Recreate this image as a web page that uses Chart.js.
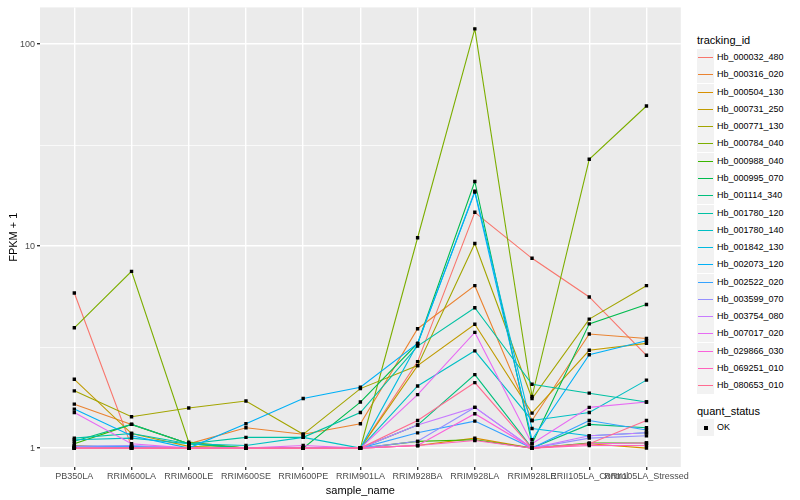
<!DOCTYPE html>
<html>
<head>
<meta charset="utf-8">
<script src="https://cdn.jsdelivr.net/npm/chart.js@4.4.1/dist/chart.umd.min.js"></script>
<style>
  html, body { margin: 0; padding: 0; background: #fff; }
  #wrap { position: relative; width: 800px; height: 500px; font-family: 'Liberation Sans', Arial, sans-serif; }
  #chart { position: absolute; left: 0; top: 0; }
  .lg-title { position: absolute; left: 697px; font-size: 11px; color: #000; white-space: nowrap; }
  .lg-key { position: absolute; left: 697px; width: 17px; height: 17px; background: #f2f2f2; }
  .lg-line { position: absolute; left: 1px; right: 1px; top: 8px; height: 1px; }
  .lg-dot { position: absolute; left: 6.5px; top: 6.5px; width: 4px; height: 4px; background: #000; }
  .lg-text { position: absolute; left: 717px; font-size: 9px; color: #000; white-space: nowrap; line-height: 17px; }
</style>
</head>
<body>
<div id="wrap">
  <canvas id="chart" width="690" height="500"></canvas>
</div>
<script>
const categories = ['PB350LA', 'RRIM600LA', 'RRIM600LE', 'RRIM600SE', 'RRIM600PE', 'RRIM901LA',
  'RRIM928BA', 'RRIM928LA', 'RRIM928LE', 'RRII105LA_Control', 'RRII105LA_Stressed'];

const trackingIds = ['Hb_000032_480', 'Hb_000316_020', 'Hb_000504_130', 'Hb_000731_250', 'Hb_000771_130',
  'Hb_000784_040', 'Hb_000988_040', 'Hb_000995_070', 'Hb_001114_340', 'Hb_001780_120',
  'Hb_001780_140', 'Hb_001842_130', 'Hb_002073_120', 'Hb_002522_020', 'Hb_003599_070',
  'Hb_003754_080', 'Hb_007017_020', 'Hb_029866_030', 'Hb_069251_010', 'Hb_080653_010'];

const lineColours = ['#F8766D', '#EA8331', '#D89000', '#C09B00', '#A3A500', '#7CAE00', '#39B600', '#00BB4E',
  '#00BF7D', '#00C1A3', '#00BFC4', '#00BAE0', '#00B0F6', '#35A2FF', '#9590FF', '#C77CFF',
  '#E76BF3', '#FA62DB', '#FF62BC', '#FF6C91'];

// FPKM + 1 per sample
const hb_000032_480 = [5.86, 1.02, 1.00, 1.00, 1.00, 1.00, 2.68, 14.7, 8.70, 5.60, 2.88];
const hb_000316_020 = [1.65, 1.31, 1.05, 1.26, 1.17, 1.32, 3.90, 6.37, 1.37, 3.67, 3.49];
const hb_000504_130 = [1.03, 1.00, 1.00, 1.00, 1.00, 1.00, 1.03, 1.12, 1.00, 1.05, 1.00];
const hb_000731_250 = [2.19, 1.18, 1.02, 1.00, 1.00, 1.00, 2.56, 4.10, 1.49, 3.05, 3.30];
const hb_000771_130 = [1.92, 1.43, 1.58, 1.71, 1.17, 1.97, 2.56, 10.3, 1.76, 4.35, 6.37];
const hb_000784_040 = [3.94, 7.50, 1.07, 1.00, 1.00, 1.00, 11.0, 119, 1.80, 26.9, 49.4];
const hb_000988_040 = [1.05, 1.31, 1.05, 1.00, 1.00, 1.00, 1.08, 1.10, 1.00, 1.06, 1.06];
const hb_000995_070 = [1.00, 1.00, 1.00, 1.00, 1.00, 1.69, 3.30, 20.9, 1.05, 4.12, 5.14];
const hb_001114_340 = [1.08, 1.31, 1.05, 1.00, 1.00, 1.00, 1.30, 2.31, 1.00, 1.31, 1.26];
const hb_001780_120 = [1.12, 1.18, 1.05, 1.13, 1.13, 1.50, 3.20, 4.95, 2.07, 1.87, 1.69];
const hb_001780_140 = [1.10, 1.12, 1.05, 1.03, 1.13, 1.00, 2.03, 3.03, 1.37, 1.50, 2.17];
const hb_001842_130 = [1.00, 1.00, 1.00, 1.00, 1.00, 1.00, 3.28, 18.7, 1.25, 1.15, 1.19];
const hb_002073_120 = [1.56, 1.15, 1.00, 1.32, 1.76, 2.00, 3.30, 18.5, 1.10, 2.90, 3.40];
const hb_002522_020 = [1.02, 1.02, 1.00, 1.00, 1.00, 1.00, 1.19, 1.36, 1.00, 1.37, 1.23];
const hb_003599_070 = [1.02, 1.03, 1.00, 1.00, 1.00, 1.00, 1.08, 1.59, 1.00, 1.12, 1.15];
const hb_003754_080 = [1.00, 1.00, 1.00, 1.00, 1.00, 1.00, 1.30, 1.59, 1.00, 1.15, 1.19];
const hb_007017_020 = [1.50, 1.05, 1.00, 1.00, 1.03, 1.00, 1.84, 3.74, 1.05, 1.59, 1.69];
const hb_029866_030 = [1.00, 1.00, 1.00, 1.00, 1.00, 1.00, 1.03, 1.48, 1.00, 1.05, 1.06];
const hb_069251_010 = [1.00, 1.00, 1.00, 1.00, 1.00, 1.00, 1.03, 1.09, 1.00, 1.03, 1.03];
const hb_080653_010 = [1.00, 1.00, 1.00, 1.00, 1.00, 1.00, 1.37, 2.11, 1.00, 1.05, 1.37];

const seriesValues = [hb_000032_480, hb_000316_020, hb_000504_130, hb_000731_250, hb_000771_130,
  hb_000784_040, hb_000988_040, hb_000995_070, hb_001114_340, hb_001780_120,
  hb_001780_140, hb_001842_130, hb_002073_120, hb_002522_020, hb_003599_070,
  hb_003754_080, hb_007017_020, hb_029866_030, hb_069251_010, hb_080653_010];

const yTicks = [1, 3.1623, 10, 31.623, 100];
const yTickLabels = ['1', '', '10', '', '100'];

const font = "'Liberation Sans', Arial, sans-serif";

// one line per transcript, ggplot order: last one on top
const lineSets = seriesValues.map((vals, i) => ({
  label: trackingIds[i],
  data: vals.map((v, j) => ({ x: j, y: v })),
  borderColor: lineColours[i],
  borderWidth: 1.1,
  pointRadius: 0,
  fill: false,
  tension: 0,
  order: seriesValues.length - i
}));

// quant_status = OK points, drawn above every line
const okPoints = [];
seriesValues.forEach(vals => vals.forEach((v, j) => okPoints.push({ x: j, y: v })));

const panelBg = {
  id: 'panelBg',
  beforeDraw(chart) {
    const { ctx, chartArea: a } = chart;
    ctx.save();
    ctx.fillStyle = '#ebebeb';
    ctx.fillRect(a.left, a.top, a.right - a.left, a.bottom - a.top);
    ctx.restore();
  }
};

const isMajor = v => yTickLabels[yTicks.indexOf(v)] !== '';

var chartFpkm = new Chart(
  document.getElementById('chart').getContext('2d'),
  { type: 'line',
    data: {
      datasets: lineSets.concat([{
        label: 'OK',
        data: okPoints,
        showLine: false,
        pointStyle: 'rect',
        pointRadius: 2.4,
        pointBackgroundColor: '#000',
        pointBorderWidth: 0,
        order: 0
      }])
    },
    options: {
      responsive: false,
      animation: false,
      layout: { padding: { top: 5, right: 5, left: 0, bottom: 0 } },
      plugins: { legend: { display: false }, tooltip: { enabled: false } },
      scales: {
        x: {
          type: 'linear',
          min: -0.6,
          max: categories.length - 0.4,
          afterBuildTicks: s => { s.ticks = categories.map((c, i) => ({ value: i })); },
          afterFit: s => { s.height = 33; },
          border: { display: false },
          grid: { color: '#fff', lineWidth: 1.4, tickColor: '#333', tickLength: 3 },
          ticks: {
            autoSkip: false, maxRotation: 0, minRotation: 0, padding: 1,
            color: '#4d4d4d', font: { family: font, size: 9 },
            callback: v => categories[v]
          },
          title: {
            display: true, text: 'sample_name', color: '#000',
            font: { family: font, size: 11 }, padding: { top: 0, bottom: 2 }
          }
        },
        y: {
          type: 'logarithmic',
          min: 0.806,
          max: 152,
          afterBuildTicks: s => { s.ticks = yTicks.map(v => ({ value: v })); },
          afterFit: s => { s.width = 40; },
          border: { display: false },
          grid: {
            color: '#fff',
            lineWidth: c => (c.tick && isMajor(c.tick.value)) ? 1.4 : 0.7,
            tickColor: c => (c.tick && isMajor(c.tick.value)) ? '#333' : 'rgba(0,0,0,0)',
            tickLength: 3
          },
          ticks: {
            padding: 2, color: '#4d4d4d', font: { family: font, size: 9 },
            callback: (v, i) => yTickLabels[i]
          },
          title: {
            display: true, text: 'FPKM + 1', color: '#000',
            font: { family: font, size: 11 }, padding: { top: 7, bottom: 0 }
          }
        }
      }
    },
    plugins: [panelBg]
  }
); /* <-- End 'chartFpkm' */

// ggplot style legend on the right
const wrap = document.getElementById('wrap');
function add(cls, top, text) {
  const el = document.createElement('div');
  el.className = cls;
  el.style.top = Math.round(top) + 'px';
  if (text) el.textContent = text;
  wrap.appendChild(el);
  return el;
}
add('lg-title', 34, 'tracking_id');
trackingIds.forEach((id, i) => {
  const top = 49 + i * 17.28;
  const key = add('lg-key', top);
  const ln = document.createElement('div');
  ln.className = 'lg-line';
  ln.style.background = lineColours[i];
  key.appendChild(ln);
  add('lg-text', top, id);
});
add('lg-title', 405, 'quant_status');
const okKey = add('lg-key', 419);
const dot = document.createElement('div');
dot.className = 'lg-dot';
okKey.appendChild(dot);
add('lg-text', 419, 'OK');
</script>
</body>
</html>
